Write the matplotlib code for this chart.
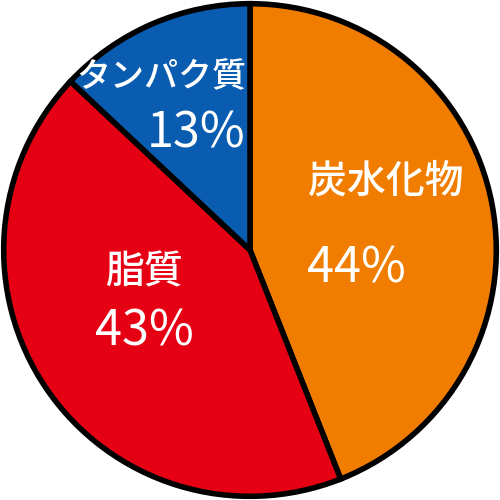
import matplotlib
matplotlib.use("Agg")
import matplotlib.pyplot as plt

# nutrient shares, clockwise from 12 o'clock
labels = ["炭水化物", "脂質", "タンパク質"]
values = [44, 43, 13]
colors = ["#F07C00", "#E60013", "#0A5CB0"]

plt.rcParams['font.family'] = ['Noto Sans CJK JP', 'DejaVu Sans']

fig = plt.figure(figsize=(5, 5), dpi=100)
ax = fig.add_axes([0, 0, 1, 1])
ax.pie(values, colors=colors, startangle=90, counterclock=False, radius=1.0,
       wedgeprops=dict(edgecolor="black", linewidth=4))
ax.set_xlim(-1.015, 1.015)
ax.set_ylim(-1.015, 1.015)
ax.set_aspect("equal")
ax.axis("off")

# label positions (data units), name then percent
name_pos = [(0.55, 0.28), (-0.43, -0.09), (-0.36, 0.70)]
pct_pos = [(0.43, -0.075), (-0.43, -0.33), (-0.22, 0.47)]
name_size = [28, 28, 24.5]
for lab, v, npos, ppos, fs in zip(labels, values, name_pos, pct_pos, name_size):
    ax.text(*npos, lab, color="white", fontsize=fs, ha="center", va="center",
            fontweight="medium")
    ax.text(*ppos, f"{v}%", color="white", fontsize=35, ha="center", va="center",
            fontweight="normal")

fig.savefig("out.png", dpi=100)
